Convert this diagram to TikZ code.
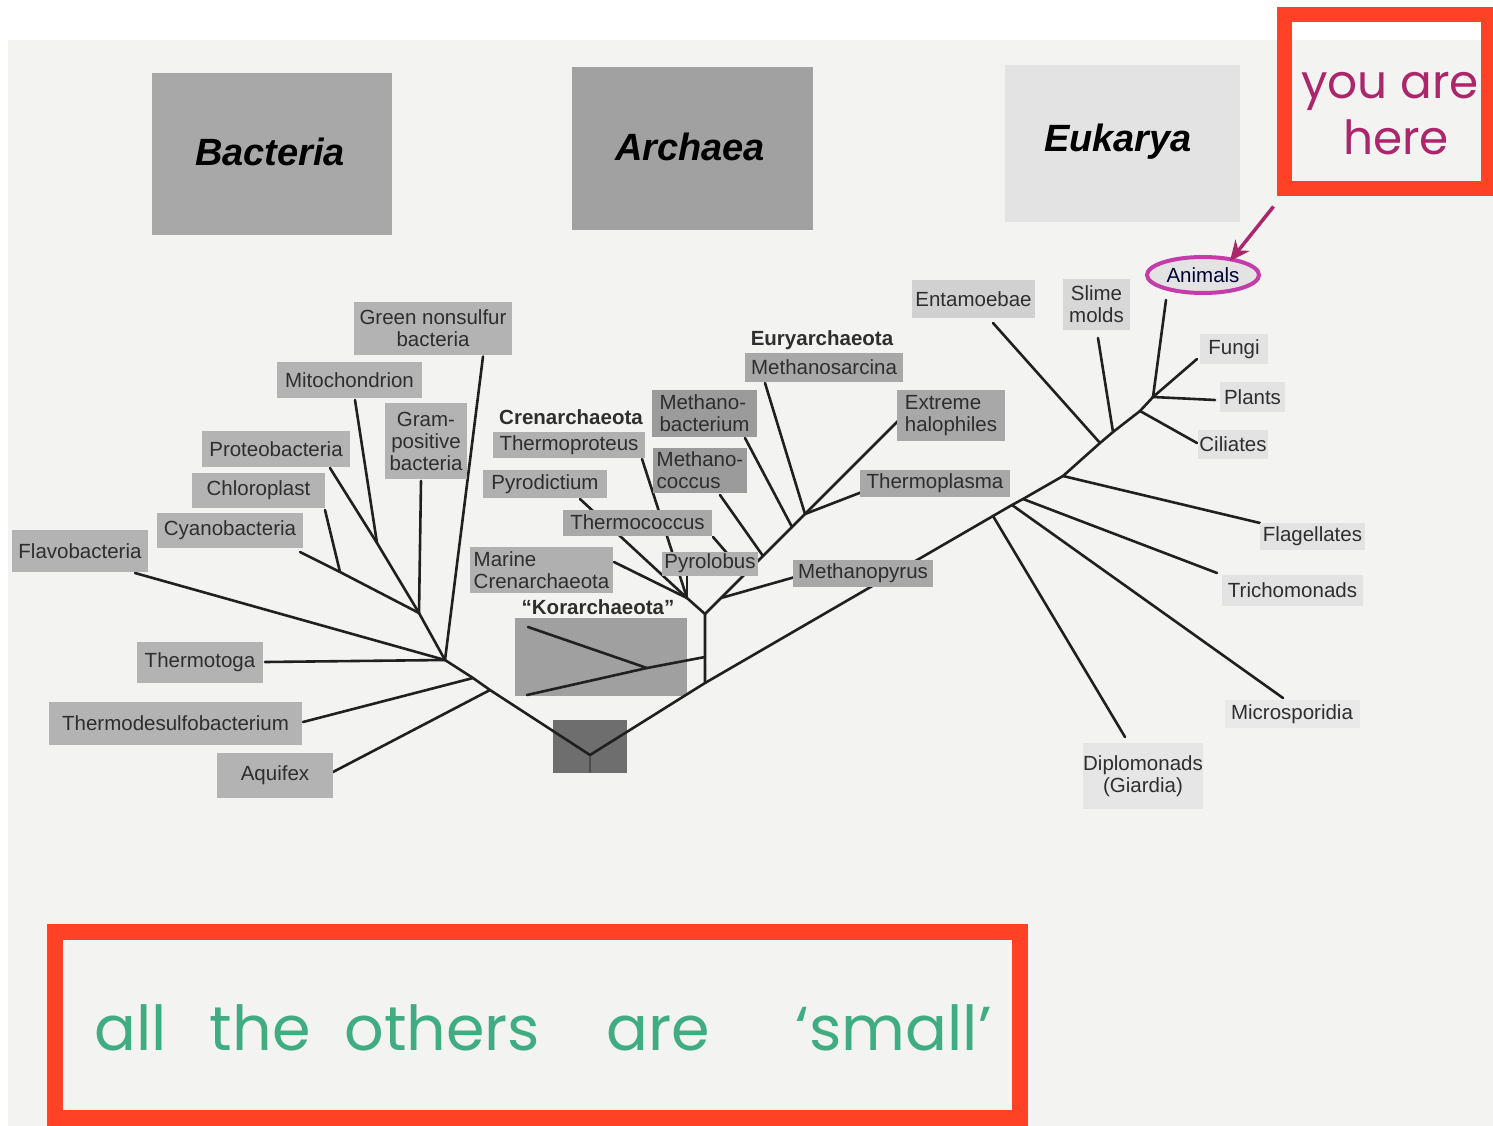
\documentclass[tikz,border=0pt]{standalone}
\usepackage{fontspec}
\setmainfont{Liberation Sans}
\newfontfamily\handfont{Poppins}
\usetikzlibrary{calc,shapes.geometric,arrows.meta}
\definecolor{paper}{HTML}{F3F3F1}
\definecolor{redframe}{RGB}{255,66,38}
\definecolor{bacfill}{HTML}{B3B3B3}
\definecolor{crenfill}{HTML}{B0B0B0}
\definecolor{euryfill}{HTML}{A8A8A8}
\definecolor{eukfill}{HTML}{E3E3E3}
\definecolor{labtext}{HTML}{2E2E2E}
\definecolor{linecol}{HTML}{202020}
\definecolor{yahcol}{RGB}{172,38,108}
\definecolor{ringcol}{RGB}{196,60,170}
\definecolor{greenhand}{RGB}{64,172,130}
\newcommand\labfont{\fontsize{20.5}{22}\selectfont}
\newcommand\hdrfont{\fontsize{38}{40}\selectfont\bfseries\itshape}
\pgfdeclarelayer{bg}
\pgfdeclarelayer{lines}
\pgfsetlayers{bg,lines,main}
\tikzset{
  branch/.style={draw=linecol, line width=2.6pt, line cap=round, line join=round},
  lab/.style={fill=#1, text=labtext, inner sep=0pt, align=center, font=\labfont},
  hdrbox/.style={fill=#1, inner sep=0pt},
  hdrtext/.style={text=black, inner sep=0pt, font=\hdrfont},
  cladename/.style={text=labtext, inner sep=0pt, font=\labfont\bfseries},
  redbox/.style={draw=redframe, line width=#1, inner sep=0pt},
}
\begin{document}
\begin{tikzpicture}[x=1pt,y=-1pt]
\useasboundingbox (0,0) rectangle (1493,1126);
\begin{pgfonlayer}{bg}
  \fill[white] (0,0) rectangle (1493,1126);
  \fill[paper] (8,40) rectangle (1493,1126);
  \node[fill=euryfill!95!black, minimum width=172pt, minimum height=78pt, inner sep=0pt] (kbox) at (601,657) {};
  \node[fill=black!57, minimum width=74pt, minimum height=53pt, inner sep=0pt] (rootbox) at (590,746.5) {};
\end{pgfonlayer}

% ---- domain headers
\node[hdrbox=black!34, minimum width=240pt, minimum height=162pt] (bact) at (272,154) {};
\node[hdrtext] (bacttext) at (270,152) {Bacteria};
\node[hdrbox=black!37, minimum width=241pt, minimum height=163pt] (arch) at (692.5,148.5) {};
\node[hdrtext] (archtext) at (690,147) {Archaea};
\node[hdrbox=black!11, minimum width=235pt, minimum height=157pt] (euk) at (1122.5,143.5) {};
\node[hdrtext] (euktext) at (1118,142) {Eukarya};

% ---- bacteria labels
\node[lab=bacfill, minimum width=158pt, minimum height=53pt] (gns) at (433,328.5) {Green nonsulfur\\bacteria};
\node[lab=bacfill, minimum width=145pt, minimum height=36pt] (mito) at (349.5,380) {Mitochondrion};
\node[lab=bacfill, minimum width=82pt, minimum height=76pt] (gram) at (426,441) {Gram-\\positive\\bacteria};
\node[lab=bacfill, minimum width=148pt, minimum height=36pt] (proteo) at (276,449) {Proteobacteria};
\node[lab=bacfill, minimum width=133pt, minimum height=35pt] (chloro) at (258.5,490.5) {Chloroplast};
\node[lab=bacfill, minimum width=146pt, minimum height=35pt] (cyano) at (230,530.5) {Cyanobacteria};
\node[lab=bacfill, minimum width=136pt, minimum height=42pt] (flavo) at (80,551) {Flavobacteria};
\node[lab=bacfill, minimum width=126pt, minimum height=41pt] (tmtoga) at (200,662.5) {Thermotoga};
\node[lab=bacfill, minimum width=253pt, minimum height=43pt] (tdesulfo) at (175.5,723.5) {Thermodesulfobacterium};
\node[lab=bacfill, minimum width=116pt, minimum height=45pt] (aquifex) at (275,775.5) {Aquifex};

% ---- archaea labels
\node[cladename] (crenname) at (571,417) {Crenarchaeota};
\node[cladename] (euryname) at (822,340) {Euryarchaeota};
\node[cladename] (korname) at (598,607) {“Korarchaeota”};
\node[lab=crenfill, minimum width=152pt, minimum height=26pt] (tproteus) at (569,445) {Thermoproteus};
\node[lab=crenfill, minimum width=124pt, minimum height=28pt] (pyrodic) at (545,484) {Pyrodictium};
\node[lab=euryfill, minimum width=149pt, minimum height=26pt] (tcoccus) at (637.5,522.5) {Thermococcus};
\node[lab=crenfill, minimum width=143pt, minimum height=46pt, align=left] (marine) at (541.5,570) {Marine\\Crenarchaeota};
\node[lab=crenfill, minimum width=96pt, minimum height=24pt] (pyrolob) at (710,563.5) {Pyrolobus};
\node[lab=euryfill!92!black, minimum width=105pt, minimum height=47pt, align=left] (mbact) at (704.5,413.5) {Methano-\\bacterium};
\node[lab=euryfill!92!black, minimum width=94pt, minimum height=45pt, align=left] (mcoccus) at (700,470.5) {Methano-\\coccus};
\node[lab=euryfill, minimum width=158pt, minimum height=29pt] (msarcina) at (824,367.5) {Methanosarcina};
\node[lab=euryfill, minimum width=108pt, minimum height=51pt, align=left] (halo) at (951,415.5) {Extreme\\halophiles};
\node[lab=euryfill, minimum width=150pt, minimum height=27pt] (tplasma) at (935,483.5) {Thermoplasma};
\node[lab=euryfill, minimum width=140pt, minimum height=27pt] (mpyrus) at (863,573.5) {Methanopyrus};

% ---- eukarya labels
\node[lab=eukfill!92!black, minimum width=123pt, minimum height=38pt] (entam) at (973.5,299) {Entamoebae};
\node[lab=eukfill!95!black, minimum width=67pt, minimum height=51pt] (slime) at (1096.5,304.5) {Slime\\molds};
\node[ellipse, draw=ringcol, line width=4pt, fill=eukfill, text=black!75!blue!80!black, inner sep=0pt, minimum width=112pt, minimum height=36pt, font=\labfont] (animals) at (1203,275) {Animals};
\node[lab=eukfill, minimum width=68pt, minimum height=30pt] (fungi) at (1234,349) {Fungi};
\node[lab=eukfill, minimum width=65pt, minimum height=30pt] (plants) at (1252.5,397) {Plants};
\node[lab=eukfill, minimum width=70pt, minimum height=29pt] (cil) at (1233,444.5) {Ciliates};
\node[lab=eukfill, minimum width=105pt, minimum height=27pt] (flag) at (1312.5,536) {Flagellates};
\node[lab=eukfill, minimum width=141pt, minimum height=31pt] (tricho) at (1292.5,590) {Trichomonads};
\node[lab=eukfill!60!paper, minimum width=135pt, minimum height=28pt] (micro) at (1292,714) {Microsporidia};
\node[lab=eukfill!80!paper, minimum width=117pt, minimum height=66pt] (diplo) at (1143,776) {Diplomonads\\(Giardia)};

% ---- branch points
\coordinate (Hb) at (445,660);
\coordinate (P) at (419,613);
\coordinate (M) at (377,543);
\coordinate (C2) at (340,572);
\coordinate (T1) at (473,678);
\coordinate (T2) at (490,690);
\coordinate (R) at (590,755);
\coordinate (Rb) at (590,772);
\coordinate (B) at (705,683);
\coordinate (A) at (705,614);
\coordinate (Kj) at (705,657);
\coordinate (K) at (647,668);
\coordinate (Cc) at (687,598);
\coordinate (Mp) at (721,598);
\coordinate (E0) at (745,574);
\coordinate (E1) at (763,556);
\coordinate (E2) at (792,527);
\coordinate (E3) at (805,514);
\coordinate (D1) at (993,516);
\coordinate (D2) at (1012,505);
\coordinate (Dt) at (1023,499);
\coordinate (D3) at (1063,476);
\coordinate (D4) at (1100,443);
\coordinate (D5) at (1113,432);
\coordinate (D6) at (1140,411);
\coordinate (D7) at (1153,397);

\begin{pgfonlayer}{lines}
  % bacteria
  \draw[branch] ($(gns)+(50,28)$) -- (Hb);
  \draw[branch] ($(mito)+(5.5,20)$) -- (M);
  \draw[branch] ($(proteo)+(54,19)$) -- (M) -- (P);
  \draw[branch] ($(chloro)+(66.5,19.5)$) -- (C2);
  \draw[branch] ($(cyano)+(70,21.5)$) -- (C2) -- (P);
  \draw[branch] ($(gram)+(-5,40)$) -- (P);
  \draw[branch] (P) -- (Hb);
  \draw[branch] ($(flavo)+(55,22)$) -- (Hb);
  \draw[branch] ($(tmtoga)+(65,-0.5)$) -- (Hb);
  \draw[branch] (Hb) -- (T1) -- (T2) -- (R);
  \draw[branch] ($(tdesulfo)+(127.5,-1.5)$) -- (T1);
  \draw[branch] ($(aquifex)+(58,-3.5)$) -- (T2);
  \draw[branch, draw=black!70, line width=1.6pt] (R) -- (Rb);
  % archaea
  \draw[branch] (R) -- (B) -- (Kj) -- (A);
  \draw[branch] (Kj) -- (K);
  \draw[branch] ($(kbox)+(-73,-30)$) -- (K) -- ($(kbox)+(-74,38)$);
  \draw[branch] ($(tproteus)+(73,14)$) -- (Cc);
  \draw[branch] ($(pyrodic)+(35,15)$) -- (Cc);
  \draw[branch] ($(marine)+(72.5,-8)$) -- (Cc);
  \draw[branch] ($(pyrolob)+(-23,12.5)$) -- (Cc);
  \draw[branch] (Cc) -- (A);
  \draw[branch] (A) -- (Mp) -- (E0) -- (E1) -- (E2) -- (E3) -- ($(halo)+(-52,4.5)$);
  \draw[branch] ($(mpyrus)+(-68,3.5)$) -- (Mp);
  \draw[branch] ($(tcoccus)+(75.5,14.5)$) -- (E0);
  \draw[branch] ($(mcoccus)+(20,24.5)$) -- (E1);
  \draw[branch] ($(mbact)+(40.5,24.5)$) -- (E2);
  \draw[branch] ($(msarcina)+(-59,15.5)$) -- (E3);
  \draw[branch] ($(tplasma)+(-73,8.5)$) -- (E3);
  % eukarya
  \draw[branch] (B) -- (D1) -- (D2) -- (Dt) -- (D3) -- (D4) -- (D5) -- (D6) -- (D7);
  \draw[branch] ($(diplo)+(-18,-39)$) -- (D1);
  \draw[branch] ($(micro)+(-9,-16)$) -- (D2);
  \draw[branch] ($(tricho)+(-75.5,-17)$) -- (Dt);
  \draw[branch] ($(flag)+(-52.5,-13)$) -- (D3);
  \draw[branch] ($(entam)+(19.5,24)$) -- (D4);
  \draw[branch] ($(slime)+(1.5,33.5)$) -- (D5);
  \draw[branch] ($(cil)+(-36,-1.5)$) -- (D6);
  \draw[branch] ($(animals)+(-37,25)$) -- (D7);
  \draw[branch] ($(fungi)+(-37,10)$) -- (D7);
  \draw[branch] ($(plants)+(-37.5,3)$) -- (D7);
\end{pgfonlayer}

% ---- handwritten annotations
\node[redbox=15pt, minimum width=203.5pt, minimum height=174.5pt] (yahbox) at (1386.25,101.75) {};
\node[text=yahcol, align=center, inner sep=0pt, font=\handfont\fontsize{47}{56}\selectfont] (yah) at (1390,114) {you are\\\hspace*{12pt}here};
\draw[draw=yahcol, line width=3.5pt, -{Stealth[length=20pt,width=18pt]}] ($(yahbox.south west)+(-3.5,10)$) -- ($(animals)+(27,-14)$);

\node[redbox=16pt, minimum width=965pt, minimum height=186pt] (smallbox) at (537.5,1025) {};
\node[text=greenhand, inner sep=0pt, font=\handfont\fontsize{62}{64}\selectfont] (others) at (543,1028) {all\hspace{43pt}the\hspace{34pt}others\hspace{66pt}are\hspace{86pt}‘small’};
\end{tikzpicture}
\end{document}
